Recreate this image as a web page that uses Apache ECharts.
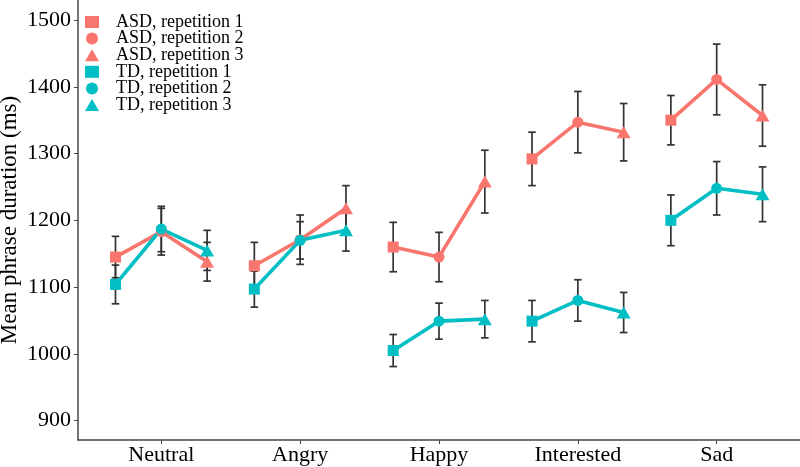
<!DOCTYPE html>
<html><head><meta charset="utf-8">
<script src="https://cdn.jsdelivr.net/npm/echarts@6/dist/echarts.min.js"></script>
<style>html,body{margin:0;padding:0;background:#fff}#c{width:800px;height:467px}</style>
</head><body><div id="c"></div>
<script>
const categories = ['Neutral', 'Angry', 'Happy', 'Interested', 'Sad'];
const yTicks = [900, 1000, 1100, 1200, 1300, 1400, 1500];

const asdRep1 = [1145, 1132, 1160, 1292, 1350];
const asdRep2 = [1183, 1171, 1145, 1347, 1411];
const asdRep3 = [1138, 1218, 1258, 1332, 1357];
const asdSe1 = [31, 35, 37, 40, 37];
const asdSe2 = [35, 37, 37, 46, 53];
const asdSe3 = [29, 34, 47, 43, 46];

const tdRep1 = [1104, 1097, 1005, 1049, 1200];
const tdRep2 = [1187, 1170, 1049, 1080, 1248];
const tdRep3 = [1155, 1185, 1052, 1062, 1239];
const tdSe1 = [29, 27, 24, 31, 38];
const tdSe2 = [34, 28, 27, 31, 40];
const tdSe3 = [30, 31, 28, 30, 41];

const groups = [
  { label: 'ASD', color: '#F8766D', means: [asdRep1, asdRep2, asdRep3], ses: [asdSe1, asdSe2, asdSe3] },
  { label: 'TD', color: '#00BFC4', means: [tdRep1, tdRep2, tdRep3], ses: [tdSe1, tdSe2, tdSe3] }
];
const dodge = [-0.33, 0, 0.33];
const symbols = ['rect', 'circle', 'triangle'];
const symbolSizes = [11, 11, [14, 12]];
const FONT = 'Liberation Serif';

const series = [];
// error bars
const errData = [];
groups.forEach(g => {
  g.means.forEach((m, r) => {
    m.forEach((v, i) => {
      errData.push([i + 1 + dodge[r], v - g.ses[r][i], v + g.ses[r][i]]);
    });
  });
});
series.push({
  type: 'custom',
  silent: true,
  z: 1,
  data: errData,
  encode: { x: 0, y: [1, 2] },
  renderItem: function (params, api) {
    const x = api.value(0);
    const lo = api.coord([x, api.value(1)]);
    const hi = api.coord([x, api.value(2)]);
    const hw = 3.8;
    const st = { stroke: '#333', lineWidth: 1.7 };
    return {
      type: 'group',
      children: [
        { type: 'line', shape: { x1: lo[0], y1: lo[1], x2: hi[0], y2: hi[1] }, style: st },
        { type: 'line', shape: { x1: lo[0] - hw, y1: lo[1], x2: lo[0] + hw, y2: lo[1] }, style: st },
        { type: 'line', shape: { x1: hi[0] - hw, y1: hi[1], x2: hi[0] + hw, y2: hi[1] }, style: st }
      ]
    };
  }
});
// connecting lines
groups.forEach((g, gi) => {
  categories.forEach((c, i) => {
    series.push({
      type: 'line',
      silent: true,
      z: 2 + gi,
      symbol: 'none',
      lineStyle: { color: g.color, width: 3.6 },
      data: [0, 1, 2].map(r => [i + 1 + dodge[r], g.means[r][i]])
    });
  });
});
// points
const legendNames = [];
groups.forEach((g, gi) => {
  g.means.forEach((m, r) => {
    const name = g.label + ', repetition ' + (r + 1);
    legendNames.push(name);
    series.push({
      type: 'scatter',
      name: name,
      z: 5 + gi,
      symbol: symbols[r],
      symbolSize: symbolSizes[r],
      itemStyle: { color: g.color, opacity: 1 },
      data: m.map((v, i) => [i + 1 + dodge[r], v])
    });
  });
});

const chart = echarts.init(document.getElementById('c'));
chart.setOption({
  animation: false,
  backgroundColor: '#fff',
  grid: { left: 78, right: 0, top: 0, bottom: 27, containLabel: false, outerBoundsMode: 'none' },
  legend: {
    data: legendNames,
    orient: 'vertical',
    left: 80,
    top: 8,
    itemWidth: 14,
    itemHeight: 12,
    itemGap: -1.4,
    textStyle: { fontFamily: FONT, fontSize: 18, color: '#000', padding: [0, 0, 0, 12] }
  },
  xAxis: {
    type: 'value',
    min: 0.4,
    max: 5.6,
    splitLine: { show: false },
    axisLine: { show: true, lineStyle: { color: '#444', width: 1.5 } },
    axisTick: { show: true, length: 4, lineStyle: { color: '#444' }, customValues: [1, 2, 3, 4, 5] },
    axisLabel: {
      customValues: [1, 2, 3, 4, 5],
      margin: 4,
      fontFamily: FONT, fontSize: 22, color: '#000',
      formatter: v => categories[Math.round(v) - 1] || ''
    }
  },
  yAxis: {
    type: 'value',
    min: 871,
    max: 1530,
    name: 'Mean phrase duration (ms)',
    nameLocation: 'middle',
    nameGap: 57,
    nameMoveOverlap: false,
    nameTextStyle: { fontFamily: FONT, fontSize: 23, color: '#000' },
    splitLine: { show: false },
    axisLine: { show: true, lineStyle: { color: '#444', width: 1.5 } },
    axisTick: { show: true, length: 4, lineStyle: { color: '#444' }, customValues: yTicks },
    axisLabel: { customValues: yTicks, margin: 7, fontFamily: FONT, fontSize: 22, color: '#000', formatter: v => String(v) }
  },
  series: series
});
</script></body></html>
